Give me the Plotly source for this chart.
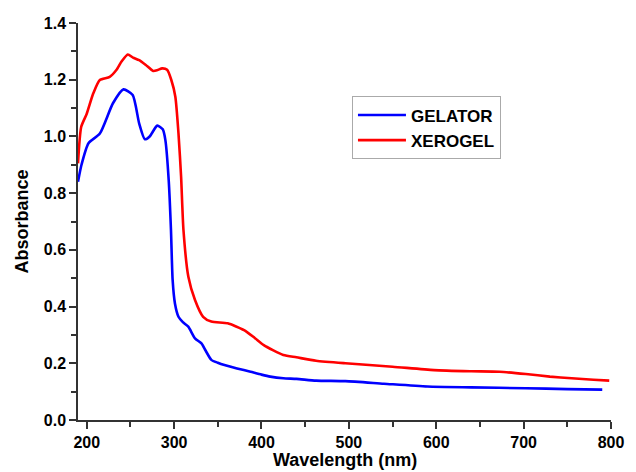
import plotly.graph_objects as go

# UV-Vis absorbance spectra
gelator_wl = [190, 194, 202, 215, 230, 242, 252.6, 260, 266.5, 272, 280.7, 287, 290, 293.8, 296.4,
              298.3, 301, 305, 310, 316.2, 323.9, 331.3, 336, 342.6, 350, 357.6, 372, 387.5, 400,
              410, 425, 440, 462.5, 496, 540, 590, 640, 702.5, 750, 790]
gelator_abs = [0.84, 0.90, 0.976, 1.01, 1.117, 1.166, 1.146, 1.046, 0.99, 1.00, 1.038, 1.025, 0.987,
               0.846, 0.67, 0.494, 0.41, 0.364, 0.345, 0.329, 0.288, 0.27, 0.245, 0.212, 0.202,
               0.194, 0.182, 0.17, 0.16, 0.153, 0.147, 0.145, 0.139, 0.137, 0.128, 0.118, 0.115,
               0.112, 0.109, 0.107]

xerogel_wl = [190, 193.7, 200, 207.5, 215, 226.3, 233.9, 240, 247, 253, 260, 267.6, 276, 281,
              286.3, 292, 296.8, 301.4, 305, 308, 310.7, 316.3, 323.9, 333.2, 342.6, 361.3, 380,
              392, 402.6, 425, 440, 462.5, 496, 550, 597.5, 640, 672.5, 702.5, 730, 755, 780, 798]
xerogel_abs = [0.905, 1.034, 1.08, 1.152, 1.199, 1.21, 1.234, 1.265, 1.289, 1.278, 1.269, 1.252,
               1.231, 1.234, 1.24, 1.235, 1.199, 1.14, 1.011, 0.858, 0.67, 0.505, 0.423, 0.364,
               0.347, 0.341, 0.317, 0.29, 0.264, 0.229, 0.221, 0.209, 0.2, 0.188, 0.176, 0.172,
               0.17, 0.162, 0.153, 0.147, 0.142, 0.139]

x_ticks = [200, 300, 400, 500, 600, 700, 800]
y_ticks = [0, 0.2, 0.4, 0.6, 0.8, 1.0, 1.2, 1.4]

font_family = "Arial, Liberation Sans, sans-serif"
axis_color = "#333333"

fig = go.Figure()
fig.add_trace(go.Scatter(x=gelator_wl, y=gelator_abs, mode="lines", name="GELATOR",
                         line=dict(color="#0000FF", width=2.6, shape="spline", smoothing=0.6)))
fig.add_trace(go.Scatter(x=xerogel_wl, y=xerogel_abs, mode="lines", name="XEROGEL",
                         line=dict(color="#FF0000", width=2.6, shape="spline", smoothing=0.6)))

axis_common = dict(
    showline=True, linecolor=axis_color, linewidth=1.5, mirror=False,
    showgrid=False, zeroline=False, ticks="outside", ticklen=7, tickwidth=1.5,
    tickcolor=axis_color,
    tickfont=dict(family=font_family, size=16, color="black", weight="bold"),
)

fig.update_layout(
    width=636, height=472,
    margin=dict(l=78, r=17, t=23, b=52),
    plot_bgcolor="white", paper_bgcolor="white",
    showlegend=True,
    legend=dict(
        x=0.514, y=0.815, xanchor="left", yanchor="top",
        bordercolor="#aaaaaa", borderwidth=1, bgcolor="white",
        font=dict(family=font_family, size=17, color="black", weight="bold"),
        tracegroupgap=0, itemwidth=48,
    ),
    xaxis=dict(range=[190, 800], tickvals=x_ticks, **axis_common),
    yaxis=dict(range=[0, 1.4], tickvals=y_ticks, tickformat=".1f", **axis_common),
)
fig.update_xaxes(minor=dict(ticks="outside", ticklen=5, tickwidth=1.5, tickcolor=axis_color,
                            dtick=50, tick0=0, showgrid=False))
fig.update_yaxes(minor=dict(ticks="outside", ticklen=5, tickwidth=1.5, tickcolor=axis_color,
                            dtick=0.1, tick0=0, showgrid=False))

fig.add_annotation(text="Wavelength (nm)", xref="paper", yref="paper", x=0.5, y=0,
                   yshift=-51, yanchor="bottom", showarrow=False, borderpad=0,
                   font=dict(family=font_family, size=18, color="black", weight="bold"))
fig.add_annotation(text="Absorbance", xref="paper", yref="paper", x=0, y=0.5,
                   xshift=-57, textangle=-90, xanchor="center", showarrow=False,
                   font=dict(family=font_family, size=18, color="black", weight="bold"))

fig.write_html("out.html")
